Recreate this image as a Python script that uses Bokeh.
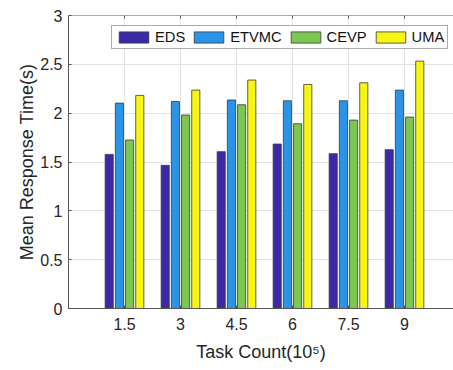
from bokeh.plotting import figure
from bokeh.models import (ColumnDataSource, FixedTicker, Legend, LegendItem,
                          Range1d, Span)
from bokeh.transform import dodge
from bokeh.embed import file_html
from bokeh.resources import INLINE

# Task counts (x 10^5) and mean response time per scheduling method
task_counts = ["1.5", "3", "4.5", "6", "7.5", "9"]
eds = [1.578, 1.466, 1.606, 1.684, 1.585, 1.626]
etvmc = [2.103, 2.120, 2.135, 2.127, 2.127, 2.236]
cevp = [1.725, 1.981, 2.086, 1.892, 1.929, 1.960]
uma = [2.182, 2.236, 2.339, 2.294, 2.311, 2.533]

series_names = ["EDS", "ETVMC", "CEVP", "UMA"]
series_colors = ["#3b2aa8", "#2a95e8", "#7cc652", "#f7f514"]

FONT = "Liberation Sans"
TEXT_COLOR = "#262626"
AXIS_COLOR = "#555555"

positions = list(range(1, len(task_counts) + 1))
source = ColumnDataSource(dict(pos=positions, EDS=eds, ETVMC=etvmc,
                               CEVP=cevp, UMA=uma))

Y_MAX = 3
p = figure(width=453, height=370, output_backend="svg", toolbar_location=None,
           x_range=Range1d(0, 6.875), y_range=Range1d(0, Y_MAX),
           min_border_left=68, min_border_right=0, min_border_top=15,
           min_border_bottom=62)
p.outline_line_color = None
p.background_fill_color = "white"
p.border_fill_color = "white"

# grid
xticker = FixedTicker(ticks=positions)
yticks = [0, 0.5, 1, 1.5, 2, 2.5, 3]
p.xgrid.ticker = xticker
p.ygrid.ticker = FixedTicker(ticks=yticks)
for g in (p.xgrid[0], p.ygrid[0]):
    g.grid_line_color = "#e3e3e3"
    g.grid_line_width = 1

# grouped bars: four bars per task count
offsets = [-0.273, -0.091, 0.091, 0.273]
bar_width = 0.145
renderers = []
for name, color, off in zip(series_names, series_colors, offsets):
    r = p.vbar(x=dodge("pos", off, range=p.x_range), top=name, width=bar_width,
               source=source, fill_color=color, line_color="#3a3a3a",
               line_width=0.8)
    renderers.append(r)

# axes
for ax in (p.xaxis[0], p.yaxis[0]):
    ax.axis_line_color = AXIS_COLOR
    ax.major_tick_line_color = AXIS_COLOR
    ax.major_tick_in = 3
    ax.major_tick_out = 0
    ax.minor_tick_line_color = None
    ax.major_label_text_font = FONT
    ax.major_label_text_font_size = "16px"
    ax.major_label_text_color = TEXT_COLOR
    ax.axis_label_text_font = FONT
    ax.axis_label_text_font_size = "18px"
    ax.axis_label_text_font_style = "normal"
    ax.axis_label_text_color = TEXT_COLOR

p.xaxis[0].ticker = xticker
p.xaxis[0].major_label_overrides = {i: lab for i, lab in zip(positions, task_counts)}
p.xaxis[0].major_label_standoff = 9
p.xaxis[0].axis_label = "Task Count(10\u2075)"
p.xaxis[0].axis_label_standoff = 9

p.yaxis[0].ticker = FixedTicker(ticks=yticks)
p.yaxis[0].major_label_overrides = {t: ("%g" % t) for t in yticks}
p.yaxis[0].major_label_standoff = 6
p.yaxis[0].axis_label = "Mean Response Time(s)"
p.yaxis[0].axis_label_standoff = 0

# top border of the axes box with small inward ticks
p.add_layout(Span(location=Y_MAX, dimension="width", line_color=AXIS_COLOR,
                  line_width=1))
p.segment(x0=positions, y0=[Y_MAX] * len(positions), x1=positions,
          y1=[Y_MAX - 0.03] * len(positions), line_color=AXIS_COLOR,
          line_width=1)

legend = Legend(items=[LegendItem(label=n, renderers=[r])
                       for n, r in zip(series_names, renderers)],
                orientation="horizontal", location=(43, 259),
                border_line_color=AXIS_COLOR, border_line_width=1,
                background_fill_color="white", background_fill_alpha=1,
                padding=3, spacing=5, margin=0,
                glyph_width=37, glyph_height=14, label_height=16,
                label_standoff=3, label_text_font=FONT,
                label_text_font_size="14.7px", label_text_color="#111111")
p.add_layout(legend, "center")

open("out.html", "w").write(file_html(p, INLINE))
